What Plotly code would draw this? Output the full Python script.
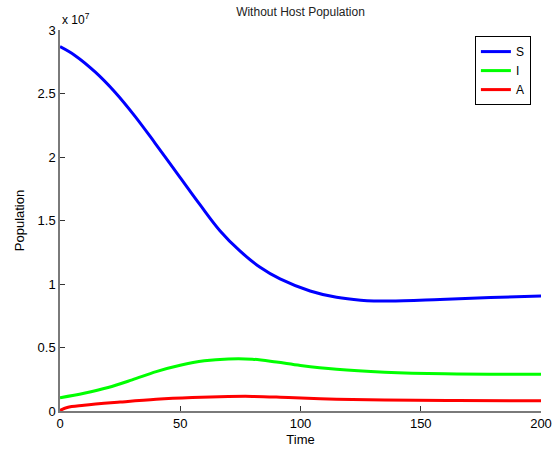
import plotly.graph_objects as go

# Data (population in units of 1e7, scaled below)
t_S = [0, 6.2, 14.6, 22.9, 31.2, 39.5, 49.9, 58.2, 66.5, 74.8, 83.2, 91.5, 104, 115, 125, 137, 158, 179, 200]
S_e7 = [2.869, 2.80, 2.67, 2.51, 2.32, 2.11, 1.84, 1.625, 1.42, 1.26, 1.132, 1.04, 0.945, 0.895, 0.873,
        0.866, 0.878, 0.893, 0.905]

t_I = [0, 10, 20, 30, 40, 50, 60, 70, 80, 90, 100, 115, 135, 160, 200]
I_e7 = [0.105, 0.14, 0.185, 0.245, 0.31, 0.36, 0.395, 0.41, 0.408, 0.385, 0.358, 0.328, 0.306, 0.293, 0.289]

t_A = [0, 3, 10, 25, 40, 55, 70, 80, 95, 115, 135, 165, 200]
A_e7 = [0.004, 0.028, 0.045, 0.07, 0.092, 0.106, 0.114, 0.115, 0.106, 0.093, 0.087, 0.082, 0.081]

x_ticks = [0, 50, 100, 150, 200]
y_tick_vals_e7 = [0, 0.5, 1, 1.5, 2, 2.5, 3]
y_tick_text = ["0", "0.5", "1", "1.5", "2", "2.5", "3"]

scale = 1e7
font_family = "Liberation Sans, Arial, Helvetica, sans-serif"

fig = go.Figure()
for name, tx, vals, color in [("S", t_S, S_e7, "#0000ff"),
                              ("I", t_I, I_e7, "#00ff00"),
                              ("A", t_A, A_e7, "#ff0000")]:
    fig.add_trace(go.Scatter(x=tx, y=[v * scale for v in vals], mode="lines", name=name,
                             line=dict(color=color, width=3, shape="spline", smoothing=1.0)))

fig.update_layout(
    width=553, height=452,
    margin=dict(l=60, r=12, t=30, b=41, autoexpand=False),
    paper_bgcolor="white", plot_bgcolor="white",
    font=dict(family=font_family, size=13, color="black"),
    title=dict(text="Without Host Population", x=0.5, xref="paper", xanchor="center",
               y=1, yref="container", yanchor="top", pad=dict(t=8),
               font=dict(size=12, color="#222")),
    showlegend=True,
    legend=dict(x=0.979, y=0.984, xanchor="right", yanchor="top",
                bordercolor="black", borderwidth=1, bgcolor="white",
                font=dict(size=12), tracegroupgap=0, itemwidth=30),
    xaxis=dict(range=[0, 200], tickvals=x_ticks, ticks="inside", ticklen=5,
               tickcolor="#333", showline=True, linecolor="#7a7a7a", linewidth=1.5,
               showgrid=False, zeroline=False, mirror=False, automargin=False,
               title=dict(text="Time", font=dict(size=13), standoff=5)),
    yaxis=dict(range=[0, 3 * scale], tickvals=[v * scale for v in y_tick_vals_e7],
               ticktext=y_tick_text, ticks="inside", ticklen=5,
               tickcolor="#333", showline=True, linecolor="#7a7a7a", linewidth=1.5,
               showgrid=False, zeroline=False, mirror=False, automargin=False,
               title=dict(text="Population", font=dict(size=13), standoff=10)),
    annotations=[dict(text="x 10<sup>7</sup>", xref="paper", yref="paper", x=0, y=1,
                      xanchor="left", yanchor="bottom", showarrow=False,
                      font=dict(size=12), yshift=1)],
)

fig.write_html("out.html", config={"displayModeBar": False},
               post_script="document.body.style.margin='0';document.body.style.overflow='hidden';")
